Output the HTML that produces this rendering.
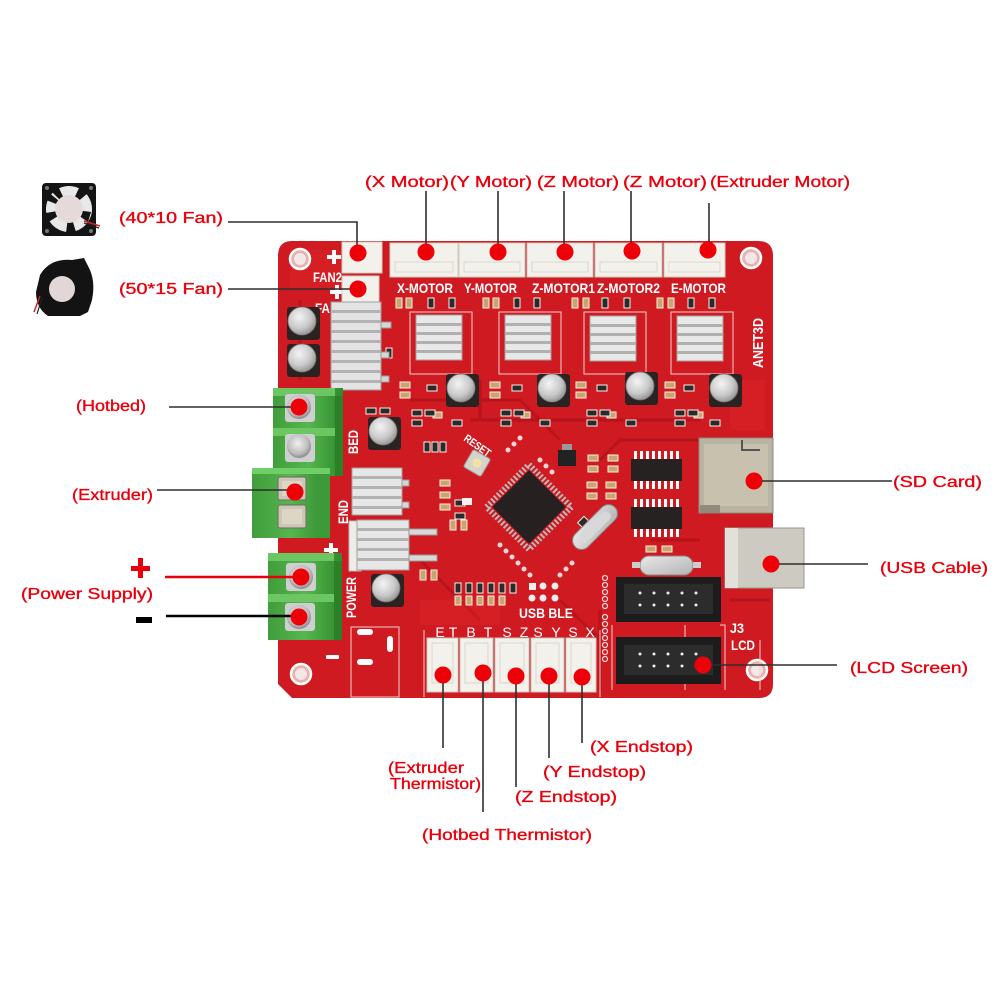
<!DOCTYPE html>
<html><head><meta charset="utf-8"><style>html,body{margin:0;padding:0;background:#fff}svg{display:block}</style></head>
<body>
<svg width="1000" height="1000" viewBox="0 0 1000 1000" xmlns="http://www.w3.org/2000/svg">
<defs>
<radialGradient id="cap" cx="0.4" cy="0.35" r="0.7"><stop offset="0" stop-color="#f4f4f4"/><stop offset="0.6" stop-color="#c9c9c9"/><stop offset="1" stop-color="#8e8e8e"/></radialGradient>
<radialGradient id="scr" cx="0.45" cy="0.4" r="0.6"><stop offset="0" stop-color="#f0f0f0"/><stop offset="0.7" stop-color="#bdbdbd"/><stop offset="1" stop-color="#8a8a8a"/></radialGradient>
<linearGradient id="sil" x1="0" y1="0" x2="1" y2="1"><stop offset="0" stop-color="#e8e8e8"/><stop offset="1" stop-color="#b4b4b4"/></linearGradient>
<linearGradient id="grn" x1="0" y1="0" x2="1" y2="0"><stop offset="0" stop-color="#3f9d3b"/><stop offset="0.5" stop-color="#56b64f"/><stop offset="1" stop-color="#2f8a2d"/></linearGradient>
</defs>
<rect width="1000" height="1000" fill="#fff"/>

<!-- 40x10 fan -->
<rect x="42" y="183" width="54" height="53" rx="4" fill="#141414"/>
<circle cx="69" cy="209" r="23" fill="#e8e8e8"/>
<g fill="#141414">
<path d="M69 209 L50 190 L58 186 Z"/><path d="M69 209 L80 186 L88 193 Z"/><path d="M69 209 L91 212 L88 222 Z"/><path d="M69 209 L76 232 L66 233 Z"/><path d="M69 209 L47 223 L46 213 Z"/><path d="M69 209 L46 200 L48 192 Z"/>
</g>
<circle cx="69" cy="209" r="14" fill="#e6d9d9"/>
<circle cx="47" cy="188" r="2" fill="#777"/><circle cx="91" cy="188" r="2" fill="#777"/><circle cx="47" cy="231" r="2" fill="#777"/><circle cx="91" cy="231" r="2" fill="#777"/>
<path d="M84 221 L100 226" stroke="#c22" stroke-width="1.5"/><path d="M84 223 L99 228" stroke="#222" stroke-width="1.2"/>

<!-- blower fan -->
<path d="M40 275 Q50 258 72 260 L84 258 L88 266 Q96 280 92 300 L88 312 L80 316 L48 316 Q36 308 36 292 Z" fill="#131313"/>
<circle cx="62" cy="289" r="13" fill="#e2d6d6"/>
<path d="M40 296 L34 312" stroke="#c22" stroke-width="1.5"/><path d="M42 298 L37 314" stroke="#222" stroke-width="1.2"/>

<!-- BOARD -->
<path d="M292 241 L758 241 Q773 241 773 256 L773 684 Q773 698 759 698 L292 698 L278 684 L278 256 Q278 241 292 241 Z" fill="#cf1a21"/>
<g fill="none" stroke="#a30f17" stroke-width="3" opacity="0.55">
<path d="M300 300 L300 380"/><path d="M410 400 L520 400 L560 440"/><path d="M470 420 L700 420"/><path d="M420 560 L480 620"/><path d="M600 460 L620 440 L700 440"/><path d="M560 600 L600 640"/><path d="M300 520 L330 520"/><path d="M600 610 L600 690"/><path d="M730 600 L770 600"/><path d="M480 380 L480 420"/><path d="M650 540 L700 540"/>
</g>
<g fill="#e2282d" opacity="0.35">
<rect x="290" y="250" width="60" height="40"/><rect x="730" y="380" width="35" height="50"/><rect x="420" y="600" width="80" height="25"/>
</g>

<!-- mounting holes -->
<g stroke="#fff" stroke-width="2.5" fill="#e9b0b0">
<circle cx="300" cy="259" r="10"/><circle cx="751" cy="258" r="10"/><circle cx="301" cy="674" r="10"/><circle cx="757" cy="670" r="10"/>
</g>
<g fill="#f6e6e6"><circle cx="300" cy="259" r="6"/><circle cx="751" cy="258" r="6"/><circle cx="301" cy="674" r="6"/><circle cx="757" cy="670" r="6"/></g>

<!-- silkscreen white text on board -->
<g font-family="Liberation Sans, sans-serif" font-weight="bold" fill="#fff" font-size="14">
<text x="313" y="282" textLength="29" lengthAdjust="spacingAndGlyphs">FAN2</text>
<text x="315" y="313" textLength="30" lengthAdjust="spacingAndGlyphs">FAN1</text>
<text x="397" y="293" textLength="56" lengthAdjust="spacingAndGlyphs">X-MOTOR</text>
<text x="464" y="293" textLength="53" lengthAdjust="spacingAndGlyphs">Y-MOTOR</text>
<text x="532" y="293" textLength="63" lengthAdjust="spacingAndGlyphs">Z-MOTOR1</text>
<text x="597" y="293" textLength="63" lengthAdjust="spacingAndGlyphs">Z-MOTOR2</text>
<text x="671" y="293" textLength="55" lengthAdjust="spacingAndGlyphs">E-MOTOR</text>
<text transform="translate(763,368) rotate(-90)" textLength="50" lengthAdjust="spacingAndGlyphs" font-size="15">ANET3D</text>
<text transform="translate(358,454) rotate(-90)" textLength="24" lengthAdjust="spacingAndGlyphs">BED</text>
<text transform="translate(348,524) rotate(-90)" textLength="24" lengthAdjust="spacingAndGlyphs">END</text>
<text transform="translate(356,618) rotate(-90)" textLength="41" lengthAdjust="spacingAndGlyphs">POWER</text>
<text x="519" y="618" textLength="54" lengthAdjust="spacingAndGlyphs">USB BLE</text>
<text x="730" y="633" textLength="14" lengthAdjust="spacingAndGlyphs">J3</text>
<text x="731" y="650" textLength="24" lengthAdjust="spacingAndGlyphs">LCD</text>
<g text-anchor="middle" font-weight="normal" font-size="14">
<text x="440" y="637">E</text><text x="453" y="637">T</text><text x="471" y="637">B</text><text x="488" y="637">T</text>
<text x="507" y="637">S</text><text x="524" y="637">Z</text><text x="538" y="637">S</text><text x="556" y="637">Y</text>
<text x="573" y="637">S</text><text x="590" y="637">X</text>
</g>
<text transform="translate(463,440) rotate(35)" font-size="11" textLength="30" lengthAdjust="spacingAndGlyphs">RESET</text>
</g>
<g fill="#fff">
<rect x="327" y="255" width="14" height="4"/><rect x="332" y="250" width="4" height="14"/>
<rect x="330" y="290" width="14" height="4"/><rect x="335" y="285" width="4" height="14"/>
<rect x="324" y="548" width="14" height="4"/><rect x="329" y="543" width="4" height="14"/>
<rect x="326" y="655" width="13" height="4" rx="1"/>
</g>
<!-- silkscreen outlines -->
<g fill="none" stroke="#f0d0d0" stroke-width="1">
<rect x="410" y="312" width="62" height="62"/><rect x="499" y="312" width="62" height="62"/><rect x="584" y="312" width="62" height="62"/><rect x="671" y="312" width="62" height="62"/>
<rect x="351" y="627" width="48" height="70"/>
<path d="M612 690 L612 625 M685 625 L685 690 M720 625 L725 625 L725 690 M760 640 L760 690"/>
<path d="M424 630 L424 697 M600 630 L600 697"/>
</g>
<g fill="#fff"><rect x="357" y="629" width="16" height="6" rx="3"/><rect x="357" y="659" width="16" height="6" rx="3"/><rect x="387" y="636" width="6" height="16" rx="3"/></g>

<!-- small SMD parts -->
<g>
<g fill="#c9a56c" stroke="#f4f0e8" stroke-width="1">
<rect x="396" y="298" width="6" height="10"/><rect x="406" y="298" width="6" height="10"/>
<rect x="483" y="298" width="6" height="10"/><rect x="493" y="298" width="6" height="10"/>
<rect x="572" y="298" width="6" height="10"/><rect x="583" y="298" width="6" height="10"/>
<rect x="657" y="298" width="6" height="10"/><rect x="668" y="298" width="6" height="10"/>
<rect x="400" y="382" width="10" height="6"/><rect x="400" y="392" width="10" height="6"/>
<rect x="490" y="382" width="10" height="6"/><rect x="490" y="392" width="10" height="6"/>
<rect x="576" y="382" width="10" height="6"/><rect x="576" y="392" width="10" height="6"/>
<rect x="665" y="382" width="10" height="6"/><rect x="665" y="392" width="10" height="6"/>
<rect x="433" y="412" width="9" height="6"/><rect x="521" y="412" width="9" height="6"/><rect x="607" y="412" width="9" height="6"/><rect x="694" y="412" width="9" height="6"/>
<rect x="440" y="480" width="10" height="6"/><rect x="440" y="492" width="10" height="6"/><rect x="440" y="504" width="10" height="6"/>
<rect x="588" y="455" width="10" height="6"/><rect x="588" y="466" width="10" height="6"/><rect x="608" y="455" width="10" height="6"/><rect x="608" y="466" width="10" height="6"/>
<rect x="587" y="482" width="10" height="6"/><rect x="587" y="493" width="10" height="6"/><rect x="606" y="482" width="10" height="6"/><rect x="606" y="493" width="10" height="6"/>
<rect x="450" y="520" width="6" height="10"/><rect x="461" y="520" width="6" height="10"/>
<rect x="455" y="596" width="6" height="9"/><rect x="466" y="596" width="6" height="9"/><rect x="477" y="596" width="6" height="9"/><rect x="488" y="596" width="6" height="9"/><rect x="499" y="596" width="6" height="9"/>
<rect x="420" y="570" width="6" height="10"/><rect x="431" y="570" width="6" height="10"/>
<rect x="646" y="546" width="10" height="6"/><rect x="662" y="546" width="10" height="6"/>
</g>
<g fill="#2a2a2a" stroke="#f4f0e8" stroke-width="1">
<rect x="428" y="298" width="6" height="10"/><rect x="449" y="298" width="6" height="10"/>
<rect x="514" y="298" width="6" height="10"/><rect x="534" y="298" width="6" height="10"/>
<rect x="602" y="298" width="6" height="10"/><rect x="624" y="298" width="6" height="10"/>
<rect x="688" y="298" width="6" height="10"/><rect x="709" y="298" width="6" height="10"/>
<rect x="386" y="348" width="6" height="10"/>
<rect x="427" y="385" width="10" height="6"/><rect x="512" y="385" width="10" height="6"/><rect x="597" y="385" width="10" height="6"/><rect x="684" y="385" width="10" height="6"/>
<rect x="412" y="410" width="10" height="6"/><rect x="412" y="420" width="10" height="6"/><rect x="425" y="410" width="10" height="6"/>
<rect x="501" y="410" width="10" height="6"/><rect x="501" y="420" width="10" height="6"/><rect x="514" y="410" width="10" height="6"/>
<rect x="587" y="410" width="10" height="6"/><rect x="587" y="420" width="10" height="6"/><rect x="600" y="410" width="10" height="6"/>
<rect x="675" y="410" width="10" height="6"/><rect x="675" y="420" width="10" height="6"/><rect x="688" y="410" width="10" height="6"/>
<rect x="452" y="420" width="10" height="6"/><rect x="540" y="420" width="10" height="6"/><rect x="626" y="420" width="10" height="6"/><rect x="710" y="420" width="10" height="6"/>
<rect x="366" y="408" width="10" height="6"/><rect x="380" y="408" width="10" height="6"/>
<rect x="424" y="442" width="6" height="10"/><rect x="432" y="442" width="6" height="10"/><rect x="440" y="442" width="6" height="10"/>
<rect x="455" y="500" width="10" height="6"/><rect x="455" y="513" width="10" height="6"/>
<rect x="455" y="583" width="6" height="10"/><rect x="466" y="583" width="6" height="10"/><rect x="477" y="583" width="6" height="10"/><rect x="488" y="583" width="6" height="10"/><rect x="499" y="583" width="6" height="10"/><rect x="510" y="583" width="6" height="10"/>
<rect x="580" y="518" width="9" height="9" transform="rotate(45 584 522)"/>
</g>
</g>

<!-- motor / fan white connectors -->
<g fill="#f3f1ec" stroke="#cfcac0" stroke-width="1">
<rect x="342" y="242" width="40" height="31"/>
<rect x="342" y="276" width="37" height="31"/>
<rect x="390" y="243" width="68" height="34"/>
<rect x="459" y="243" width="66" height="34"/>
<rect x="527" y="243" width="66" height="34"/>
<rect x="595" y="243" width="67" height="34"/>
<rect x="664" y="243" width="61" height="34"/>
</g>
<g fill="none" stroke="#dcd7cc" stroke-width="1">
<rect x="395" y="262" width="58" height="10"/><rect x="464" y="262" width="56" height="10"/><rect x="532" y="262" width="56" height="10"/><rect x="600" y="262" width="57" height="10"/><rect x="669" y="262" width="51" height="10"/>
</g>

<!-- heatsinks -->
<g>
<rect x="331" y="302" width="50" height="88" fill="#e3e3e3" stroke="#9e9e9e"/>
<g fill="#b3b3b3"><rect x="331" y="310" width="50" height="3"/><rect x="331" y="320" width="50" height="3"/><rect x="331" y="330" width="50" height="3"/><rect x="331" y="340" width="50" height="3"/><rect x="331" y="350" width="50" height="3"/><rect x="331" y="360" width="50" height="3"/><rect x="331" y="370" width="50" height="3"/><rect x="331" y="380" width="50" height="3"/></g>
<g fill="#d5d5d5" stroke="#999"><rect x="381" y="322" width="10" height="6"/><rect x="381" y="352" width="8" height="6"/><rect x="381" y="376" width="8" height="6"/></g>
</g>
<g fill="#e8e8e8" stroke="#a0a0a0">
<rect x="416" y="315" width="46" height="45"/><rect x="505" y="315" width="46" height="45"/><rect x="590" y="316" width="46" height="45"/><rect x="677" y="316" width="46" height="45"/>
</g>
<g fill="#b0b0b0">
<rect x="416" y="323" width="46" height="3"/><rect x="416" y="332" width="46" height="3"/><rect x="416" y="341" width="46" height="3"/><rect x="416" y="350" width="46" height="3"/>
<rect x="505" y="323" width="46" height="3"/><rect x="505" y="332" width="46" height="3"/><rect x="505" y="341" width="46" height="3"/><rect x="505" y="350" width="46" height="3"/>
<rect x="590" y="324" width="46" height="3"/><rect x="590" y="333" width="46" height="3"/><rect x="590" y="342" width="46" height="3"/><rect x="590" y="351" width="46" height="3"/>
<rect x="677" y="324" width="46" height="3"/><rect x="677" y="333" width="46" height="3"/><rect x="677" y="342" width="46" height="3"/><rect x="677" y="351" width="46" height="3"/>
</g>
<!-- bed mosfet heatsink -->
<rect x="352" y="468" width="50" height="47" fill="#e6e6e6" stroke="#a0a0a0"/>
<g fill="#b2b2b2"><rect x="352" y="476" width="50" height="3"/><rect x="352" y="486" width="50" height="3"/><rect x="352" y="496" width="50" height="3"/><rect x="352" y="506" width="50" height="3"/></g>
<g fill="#d5d5d5" stroke="#999"><rect x="402" y="480" width="7" height="6"/><rect x="402" y="502" width="7" height="6"/></g>
<!-- power heatsink -->
<rect x="349" y="521" width="12" height="50" fill="#efede8" stroke="#bbb"/>
<rect x="357" y="520" width="52" height="50" fill="#e6e6e6" stroke="#a0a0a0"/>
<g fill="#b2b2b2"><rect x="357" y="528" width="52" height="3"/><rect x="357" y="538" width="52" height="3"/><rect x="357" y="548" width="52" height="3"/><rect x="357" y="558" width="52" height="3"/></g>
<g fill="#d8d8d8" stroke="#999"><rect x="409" y="529" width="28" height="6"/><rect x="409" y="555" width="28" height="6"/></g>

<!-- capacitors -->
<g>
<g fill="#2b2222"><rect x="287" y="307" width="33" height="33" rx="3"/><rect x="287" y="344" width="33" height="33" rx="3"/><rect x="368" y="417" width="33" height="33" rx="3"/><rect x="446" y="374" width="33" height="33" rx="3"/><rect x="537" y="374" width="33" height="33" rx="3"/><rect x="625" y="372" width="33" height="33" rx="3"/><rect x="709" y="374" width="33" height="33" rx="3"/><rect x="371" y="574" width="33" height="33" rx="3"/></g>
<g fill="url(#cap)" stroke="#777" stroke-width="0.8"><circle cx="302" cy="321" r="14"/><circle cx="302" cy="358" r="14"/><circle cx="383" cy="431" r="14"/><circle cx="461" cy="388" r="14"/><circle cx="552" cy="388" r="14"/><circle cx="640" cy="386" r="14"/><circle cx="724" cy="388" r="14"/><circle cx="386" cy="588" r="14"/></g>
</g>

<!-- terminal blocks -->
<g>
<rect x="273" y="388" width="70" height="88" fill="url(#grn)"/>
<rect x="273" y="388" width="62" height="8" fill="#6cc763"/>
<rect x="273" y="428" width="62" height="8" fill="#6cc763"/>
<rect x="335" y="396" width="8" height="80" fill="#2b8028"/>
<rect x="285" y="394" width="30" height="28" rx="3" fill="#cfcfcf"/>
<rect x="285" y="434" width="30" height="28" rx="3" fill="#cfcfcf"/>
<circle cx="299" cy="407" r="12" fill="url(#scr)"/>
<circle cx="299" cy="446" r="12" fill="url(#scr)"/>
</g>
<g>
<rect x="252" y="468" width="78" height="70" fill="url(#grn)"/>
<rect x="252" y="468" width="78" height="6" fill="#6fcf66"/>
<rect x="318" y="474" width="12" height="64" fill="#3c9a38"/>
<rect x="278" y="477" width="28" height="23" rx="2" fill="#ccc6b6" stroke="#6f6a5e"/>
<rect x="278" y="505" width="28" height="23" rx="2" fill="#ccc6b6" stroke="#6f6a5e"/>
<rect x="282" y="481" width="20" height="15" fill="#ddd6c2"/>
<rect x="282" y="509" width="20" height="15" fill="#ddd6c2"/>
</g>
<g>
<rect x="268" y="553" width="74" height="87" fill="url(#grn)"/>
<rect x="268" y="553" width="66" height="8" fill="#6cc763"/>
<rect x="268" y="594" width="66" height="8" fill="#6cc763"/>
<rect x="334" y="561" width="8" height="79" fill="#2b8028"/>
<rect x="286" y="563" width="30" height="28" rx="3" fill="#cfcfcf"/>
<rect x="285" y="603" width="30" height="28" rx="3" fill="#cfcfcf"/>
<circle cx="301" cy="577" r="12" fill="url(#scr)"/>
<circle cx="299" cy="617" r="12" fill="url(#scr)"/>
</g>

<!-- reset button, regulator -->
<g transform="rotate(30 477 463)"><rect x="467" y="453" width="20" height="20" rx="2" fill="#d6d2cc" stroke="#999"/><circle cx="477" cy="463" r="4.5" fill="#f1e3a8"/></g>
<rect x="558" y="450" width="18" height="16" fill="#222"/><rect x="562" y="444" width="10" height="6" fill="#999"/>
<rect x="462" y="498" width="10" height="7" fill="#f2f2f2"/>

<!-- MCU -->
<g transform="rotate(45 529 507)">
<rect x="499" y="477" width="60" height="60" fill="none" stroke="#b9b9b9" stroke-width="6" stroke-dasharray="2 2"/>
<rect x="503" y="481" width="52" height="52" fill="#262020"/>
</g>
<g fill="#f2e9e9" opacity="0.9">
<circle cx="500" cy="545" r="2.5"/><circle cx="506" cy="551" r="2.5"/><circle cx="512" cy="557" r="2.5"/><circle cx="518" cy="563" r="2.5"/><circle cx="524" cy="569" r="2.5"/><circle cx="530" cy="575" r="2.5"/>
<circle cx="540" cy="460" r="2.5"/><circle cx="546" cy="466" r="2.5"/><circle cx="552" cy="472" r="2.5"/>
<circle cx="520" cy="438" r="2.5"/><circle cx="514" cy="444" r="2.5"/><circle cx="508" cy="450" r="2.5"/>
<circle cx="560" cy="575" r="2.5"/><circle cx="566" cy="569" r="2.5"/><circle cx="572" cy="563" r="2.5"/>
</g>
<!-- crystal Y1 -->
<g transform="rotate(-45 595 527)"><rect x="567" y="518" width="56" height="18" rx="9" fill="url(#sil)" stroke="#888"/><rect x="575" y="522" width="40" height="10" rx="5" fill="#d8d8d8"/></g>
<!-- ICs -->
<g fill="#fff">
<rect x="634" y="451" width="3" height="8"/><rect x="640" y="451" width="3" height="8"/><rect x="646" y="451" width="3" height="8"/><rect x="652" y="451" width="3" height="8"/><rect x="658" y="451" width="3" height="8"/><rect x="664" y="451" width="3" height="8"/><rect x="670" y="451" width="3" height="8"/><rect x="676" y="451" width="3" height="8"/>
<rect x="634" y="481" width="3" height="8"/><rect x="640" y="481" width="3" height="8"/><rect x="646" y="481" width="3" height="8"/><rect x="652" y="481" width="3" height="8"/><rect x="658" y="481" width="3" height="8"/><rect x="664" y="481" width="3" height="8"/><rect x="670" y="481" width="3" height="8"/><rect x="676" y="481" width="3" height="8"/>
<rect x="634" y="499" width="3" height="8"/><rect x="640" y="499" width="3" height="8"/><rect x="646" y="499" width="3" height="8"/><rect x="652" y="499" width="3" height="8"/><rect x="658" y="499" width="3" height="8"/><rect x="664" y="499" width="3" height="8"/><rect x="670" y="499" width="3" height="8"/><rect x="676" y="499" width="3" height="8"/>
<rect x="634" y="529" width="3" height="8"/><rect x="640" y="529" width="3" height="8"/><rect x="646" y="529" width="3" height="8"/><rect x="652" y="529" width="3" height="8"/><rect x="658" y="529" width="3" height="8"/><rect x="664" y="529" width="3" height="8"/><rect x="670" y="529" width="3" height="8"/><rect x="676" y="529" width="3" height="8"/>
</g>
<rect x="631" y="459" width="51" height="22" fill="#262222"/>
<rect x="631" y="507" width="51" height="22" fill="#262222"/>

<!-- SD card -->
<rect x="699" y="438" width="74" height="75" fill="#b9b3a2" stroke="#8e887a"/>
<rect x="704" y="444" width="64" height="62" fill="#c7c1ae"/>
<path d="M742 440 L742 450 L760 450" stroke="#555" stroke-width="2" fill="none"/>
<rect x="700" y="505" width="20" height="8" fill="#8f8a7c"/>
<!-- USB -->
<rect x="725" y="528" width="79" height="60" fill="#cdcac2" stroke="#9a978f"/>
<rect x="725" y="528" width="13" height="60" fill="#e2e0da"/>
<!-- Y2 crystal -->
<rect x="640" y="556" width="53" height="19" rx="9" fill="url(#sil)" stroke="#888"/>
<rect x="632" y="562" width="8" height="6" fill="#ccc"/><rect x="693" y="562" width="8" height="6" fill="#ccc"/>
<!-- IDC headers -->
<g>
<rect x="616" y="577" width="105" height="45" fill="#1c1c1c"/>
<rect x="624" y="584" width="89" height="30" fill="#2c2c2c"/>
<rect x="616" y="637" width="105" height="47" fill="#1c1c1c"/>
<rect x="624" y="645" width="89" height="30" fill="#2c2c2c"/>
<g fill="#eee">
<circle cx="640" cy="593" r="1.5"/><circle cx="654" cy="593" r="1.5"/><circle cx="668" cy="593" r="1.5"/><circle cx="682" cy="593" r="1.5"/><circle cx="696" cy="593" r="1.5"/>
<circle cx="640" cy="605" r="1.5"/><circle cx="654" cy="605" r="1.5"/><circle cx="668" cy="605" r="1.5"/><circle cx="682" cy="605" r="1.5"/><circle cx="696" cy="605" r="1.5"/>
<circle cx="640" cy="654" r="1.5"/><circle cx="654" cy="654" r="1.5"/><circle cx="668" cy="654" r="1.5"/><circle cx="682" cy="654" r="1.5"/><circle cx="696" cy="654" r="1.5"/>
<circle cx="640" cy="666" r="1.5"/><circle cx="654" cy="666" r="1.5"/><circle cx="668" cy="666" r="1.5"/><circle cx="682" cy="666" r="1.5"/><circle cx="696" cy="666" r="1.5"/>
</g>
</g>
<g fill="none" stroke="#f0dede" stroke-width="1.2">
<circle cx="605" cy="578" r="2.5"/><circle cx="605" cy="585" r="2.5"/><circle cx="605" cy="592" r="2.5"/><circle cx="605" cy="599" r="2.5"/><circle cx="605" cy="606" r="2.5"/>
<circle cx="605" cy="617" r="2.5"/><circle cx="605" cy="624" r="2.5"/><circle cx="605" cy="631" r="2.5"/><circle cx="605" cy="638" r="2.5"/><circle cx="605" cy="645" r="2.5"/><circle cx="605" cy="652" r="2.5"/><circle cx="605" cy="659" r="2.5"/>
</g>
<!-- J9 pads -->
<g fill="#f0eeee"><rect x="529" y="583" width="7" height="7"/><circle cx="543" cy="586" r="3.5"/><circle cx="555" cy="586" r="3.5"/><circle cx="532" cy="598" r="3.5"/><circle cx="543" cy="598" r="3.5"/><circle cx="555" cy="598" r="3.5"/></g>

<!-- endstop connectors -->
<g fill="#f3f1ec" stroke="#cbc6bb" stroke-width="1">
<rect x="427" y="638" width="31" height="54"/><rect x="460" y="638" width="33" height="54"/><rect x="495" y="638" width="34" height="54"/><rect x="531" y="638" width="33" height="54"/><rect x="566" y="638" width="30" height="54"/>
</g>
<g fill="none" stroke="#dcd7cc"><rect x="432" y="643" width="21" height="40"/><rect x="465" y="643" width="23" height="40"/><rect x="500" y="643" width="24" height="40"/><rect x="536" y="643" width="23" height="40"/><rect x="571" y="643" width="20" height="40"/></g>

<!-- CONNECTOR LINES -->
<g stroke="#2e2e2e" stroke-width="1.6" fill="none">
<path d="M228 222 L357 222 L357 250"/>
<path d="M228 289 L355 289"/>
<path d="M426 191 L426 250"/><path d="M498 191 L498 250"/><path d="M564 191 L564 250"/><path d="M631 191 L631 250"/><path d="M709 203 L709 250"/>
<path d="M169 407 L298 407"/>
<path d="M157 490 L294 490"/>
<path d="M754 481 L892 481"/>
<path d="M771 564 L868 564"/>
<path d="M703 665 L837 665"/>
<path d="M443 675 L443 748"/><path d="M483 673 L483 812"/><path d="M516 676 L516 787"/><path d="M549 676 L549 758"/><path d="M582 677 L582 743"/>
</g>
<path d="M165 577 L300 577" stroke="#e8000c" stroke-width="2.5"/>
<path d="M166 616 L299 616" stroke="#000" stroke-width="2.5"/>

<!-- RED DOTS -->
<g fill="#ee0008">
<circle cx="358" cy="253" r="8.5"/><circle cx="358" cy="289" r="8.5"/>
<circle cx="426" cy="252" r="8.5"/><circle cx="498" cy="252" r="8.5"/><circle cx="565" cy="252" r="8.5"/><circle cx="632" cy="251" r="8.5"/><circle cx="708" cy="250" r="8.5"/>
<circle cx="299" cy="407" r="8.5"/><circle cx="295" cy="492" r="8.5"/><circle cx="301" cy="577" r="8.5"/><circle cx="299" cy="617" r="8.5"/>
<circle cx="754" cy="481" r="8.5"/><circle cx="771" cy="564" r="8.5"/><circle cx="703" cy="665" r="8.5"/>
<circle cx="443" cy="675" r="8.5"/><circle cx="483" cy="673" r="8.5"/><circle cx="516" cy="676" r="8.5"/><circle cx="549" cy="676" r="8.5"/><circle cx="582" cy="677" r="8.5"/>
</g>

<!-- RED LABELS -->
<g font-family="Liberation Sans, Arial, sans-serif" font-size="16" fill="#e8000c" stroke="#e8000c" stroke-width="0.35">
<text x="365" y="187" textLength="84" lengthAdjust="spacingAndGlyphs">(X  Motor)</text>
<text x="450" y="187" textLength="82" lengthAdjust="spacingAndGlyphs">(Y  Motor)</text>
<text x="537" y="187" textLength="82" lengthAdjust="spacingAndGlyphs">(Z  Motor)</text>
<text x="623" y="187" textLength="84" lengthAdjust="spacingAndGlyphs">(Z  Motor)</text>
<text x="710" y="187" textLength="140" lengthAdjust="spacingAndGlyphs">(Extruder  Motor)</text>
<text x="119" y="223" textLength="104" lengthAdjust="spacingAndGlyphs">(40*10  Fan)</text>
<text x="119" y="294" textLength="104" lengthAdjust="spacingAndGlyphs">(50*15  Fan)</text>
<text x="76" y="411" textLength="70" lengthAdjust="spacingAndGlyphs">(Hotbed)</text>
<text x="72" y="500" textLength="81" lengthAdjust="spacingAndGlyphs">(Extruder)</text>
<text x="21" y="599" textLength="132" lengthAdjust="spacingAndGlyphs">(Power  Supply)</text>
<text x="893" y="487" textLength="89" lengthAdjust="spacingAndGlyphs">(SD  Card)</text>
<text x="880" y="573" textLength="108" lengthAdjust="spacingAndGlyphs">(USB  Cable)</text>
<text x="850" y="673" textLength="118" lengthAdjust="spacingAndGlyphs">(LCD  Screen)</text>
<text x="590" y="752" textLength="103" lengthAdjust="spacingAndGlyphs">(X  Endstop)</text>
<text x="543" y="777" textLength="103" lengthAdjust="spacingAndGlyphs">(Y  Endstop)</text>
<text x="515" y="802" textLength="102" lengthAdjust="spacingAndGlyphs">(Z  Endstop)</text>
<text x="388" y="773" textLength="76" lengthAdjust="spacingAndGlyphs">(Extruder</text>
<text x="390" y="789" textLength="91" lengthAdjust="spacingAndGlyphs">Thermistor)</text>
<text x="422" y="840" textLength="170" lengthAdjust="spacingAndGlyphs">(Hotbed  Thermistor)</text>
</g>
<rect x="131" y="566" width="19" height="5" fill="#e8000c"/><rect x="138" y="558" width="5" height="20" fill="#e8000c"/>
<rect x="136" y="617" width="16" height="6" fill="#000"/>
</svg>
</body></html>
